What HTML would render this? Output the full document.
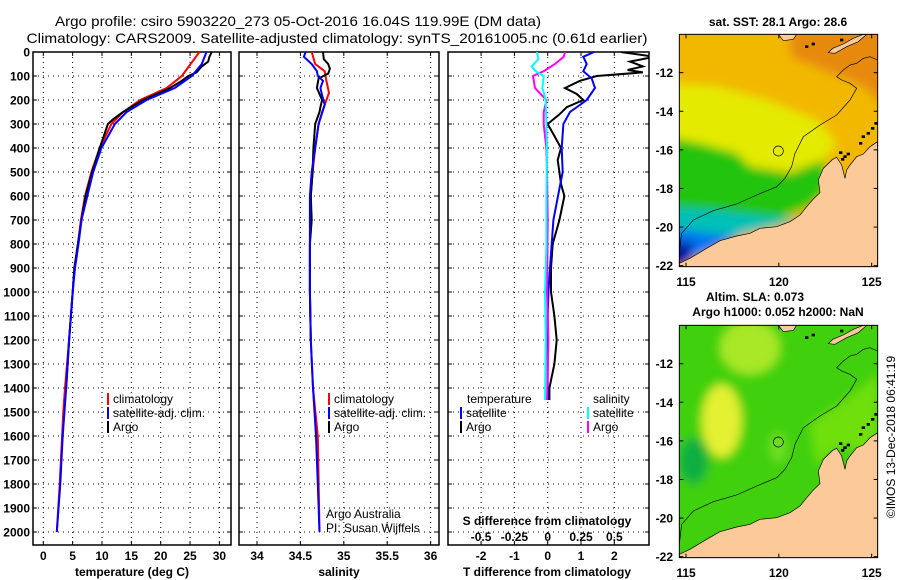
<!DOCTYPE html>
<html><head><meta charset="utf-8"><style>
html,body{margin:0;padding:0;background:#fff;}
svg{display:block;font-family:"Liberation Sans",Arial,sans-serif;}
.tk{font-size:12px;font-weight:bold;}
.lg{font-size:12px;}
</style></head><body>
<svg id="fig" width="900" height="580" viewBox="0 0 900 580" xmlns="http://www.w3.org/2000/svg">
<defs>
<filter id="bl" x="-20%" y="-20%" width="140%" height="140%"><feGaussianBlur stdDeviation="14"/></filter>
<clipPath id="cp1"><rect x="33" y="52" width="198" height="493"/></clipPath>
<clipPath id="cp2"><rect x="239" y="52" width="200" height="493"/></clipPath>
<clipPath id="cp3"><rect x="448" y="52" width="201" height="493"/></clipPath>
<clipPath id="cm"><rect x="88" y="103" width="595" height="697"/></clipPath>
</defs>
<text x="298" y="26" text-anchor="middle" font-size="14" textLength="486" lengthAdjust="spacingAndGlyphs">Argo profile: csiro 5903220_273 05-Oct-2016 16.04S 119.99E (DM data)</text>
<text x="337" y="43" text-anchor="middle" font-size="14" textLength="621" lengthAdjust="spacingAndGlyphs">Climatology: CARS2009. Satellite-adjusted climatology: synTS_20161005.nc (0.61d earlier)</text>
<g id="panels"></g>
<g id="maps"></g>
</svg>
<script>
// ---- data ----
const tClimDepth=[0,100,150,200,250,300,400,500,600,700,800,900,1000,1200,1400,1500,1600,1800,2000];
const tClim=[26.6,23.6,21.0,16.5,13.6,11.6,9.6,8.2,7.1,6.4,5.9,5.3,5.0,4.4,3.7,3.4,3.2,2.8,2.3];
const tSatDepth=[0,50,100,150,200,250,300,400,500,600,700,800,900,1000,1200,1400,1600,1800,2000];
const tSat=[27.8,27.0,25.3,22.4,17.6,14.2,12.2,9.9,8.5,7.5,6.5,6.0,5.4,5.0,4.4,3.9,3.3,2.9,2.3];
const tArgoDepth=[0,20,40,60,85,100,120,150,200,250,280,300,400,500,600,700,800,900,1000,1200,1400];
const tArgo=[28.7,28.3,28.1,27.0,26.1,24.7,23.6,21.6,17.0,13.6,11.9,11.0,9.6,8.3,7.2,6.5,5.9,5.3,5.0,4.4,3.9];
const sClimDepth=[0,50,80,120,170,200,250,300,400,500,600,800,1000,1200,1400,1600,2000];
const sClim=[34.63,34.67,34.78,34.80,34.83,34.80,34.75,34.71,34.67,34.64,34.62,34.61,34.61,34.62,34.645,34.70,34.72];
const sSatDepth=[0,20,50,80,100,120,150,180,220,300,400,500,600,1000,1200,1400,1600,1800,2000];
const sSat=[34.56,34.54,34.63,34.69,34.70,34.76,34.73,34.75,34.78,34.71,34.67,34.63,34.61,34.61,34.62,34.645,34.68,34.70,34.72];
const sArgoDepth=[0,30,50,70,90,110,150,200,230,250,300,400,500,600,700,800,1000,1200];
const sArgo=[34.76,34.77,34.82,34.84,34.82,34.71,34.69,34.75,34.73,34.72,34.67,34.65,34.64,34.62,34.63,34.61,34.61,34.62];
const dTSatDepth=[0,20,50,80,110,150,200,250,300,400,500,600,700,800,900,1000,1100,1200,1400,1450];
const dTSat=[1.39,1.07,1.17,1.07,1.32,1.42,1.17,0.67,0.47,0.42,0.45,0.31,0.17,0.12,0.07,0.02,0.0,0.0,0.0,0.0];
const dTArgoDepth=[0,20,40,60,75,85,100,120,150,175,200,230,260,300,350,400,450,500,550,600,700,800,900,1000,1100,1200,1300,1400,1450];
const dTArgo=[2.2,3.2,2.47,2.86,2.4,2.86,1.47,0.97,0.52,0.87,1.07,0.57,0.35,0.0,0.2,0.4,0.3,0.35,0.4,0.5,0.35,0.15,0.1,0.1,0.2,0.27,0.2,0.05,0.05];
const dSArgoDepth=[0,20,50,80,100,150,180,200,250,300,350,400,500,700,1000,1200,1450];
const dSArgo=[0.13,0.12,0.055,-0.03,-0.11,-0.095,-0.045,-0.008,-0.03,-0.03,-0.02,-0.01,-0.005,0.0,-0.005,0.005,-0.005];
const dSSatDepth=[0,30,60,80,100,150,200,300,400,600,800,1000,1200,1450];
const dSSat=[-0.08,-0.07,-0.12,-0.09,-0.03,-0.04,-0.015,-0.01,-0.005,-0.01,-0.01,-0.02,-0.015,-0.02];
const depthTicks=[0,100,200,300,400,500,600,700,800,900,1000,1100,1200,1300,1400,1500,1600,1700,1800,1900,2000];
const tTicks=[0,5,10,15,20,25,30];
const sTicks=[34,34.5,35,35.5,36];
const sTickLabels=["34","34.5","35","35.5","36"];
const dTTicks=[-2,-1,0,1,2];
const dSTicks=[-0.5,-0.25,0,0.25,0.5];
const dSTickLabels=["-0.5","-0.25","0","0.25","0.5"];
const latTicks=[-12,-14,-16,-18,-20,-22];
const lonTicks=[115,120,125];

// ---- axes ----
const yD=d=>52+d*0.24;
const xT=t=>43.3+t*5.87;
const xS=s=>257+(s-34)*86.8;
const xDT=t=>547.7+t*33.3;
const xDS=s=>547.7+s*4*33.3;
const NS="http://www.w3.org/2000/svg";
const root=document.getElementById('panels');
function mk(tag,attrs,parent){const e=document.createElementNS(NS,tag);for(const k in attrs)e.setAttribute(k,attrs[k]);(parent||root).appendChild(e);return e;}
function txt(x,y,s,cls,anchor,parent){const e=mk('text',{x:x,y:y,'class':cls,'text-anchor':anchor||'middle'},parent);e.textContent=s;return e;}

const panels=[{x:33,w:198,clip:'cp1',name:'temperature-panel'},{x:239,w:200,clip:'cp2',name:'salinity-panel'},{x:448,w:201,clip:'cp3',name:'difference-panel'}];
const gridX=[tTicks.map(xT),sTicks.map(xS),dTTicks.map(xDT)];
panels.forEach((p,i)=>{
  const g=mk('g',{});
  
  
  depthTicks.forEach(d=>{
    const l=mk('line',{x1:p.x,x2:p.x+p.w,y1:yD(d),y2:yD(d),stroke:'#000','stroke-width':1,'stroke-dasharray':'1 4'},g);
    
    
    mk('line',{x1:p.x,x2:p.x+4,y1:yD(d),y2:yD(d),stroke:'#000'},g);
    mk('line',{x1:p.x+p.w-4,x2:p.x+p.w,y1:yD(d),y2:yD(d),stroke:'#000'},g);
  });
  gridX[i].forEach(x=>{
    const l=mk('line',{x1:x,x2:x,y1:52,y2:545,stroke:'#000','stroke-width':1,'stroke-dasharray':'1 4'},g);
    
    
    mk('line',{x1:x,x2:x,y1:545,y2:541,stroke:'#000'},g);
    mk('line',{x1:x,x2:x,y1:52,y2:56,stroke:'#000'},g);
  });
  const r=mk('rect',{x:p.x,y:52,width:p.w,height:493,fill:'none',stroke:'#000','stroke-width':1.5},g);
  
  
});
depthTicks.forEach(d=>{
  const t=txt(30,yD(d)+4.5,String(d),'tk','end');
  
  
});
tTicks.forEach(v=>{const t=txt(xT(v),560,String(v),'tk');});
sTicks.forEach((v,i)=>{const t=txt(xS(v),560,sTickLabels[i],'tk');});
dTTicks.forEach(v=>{const t=txt(xDT(v),560,String(v),'tk');});
dSTicks.forEach((v,i)=>{const t=txt(xDS(v),541,dSTickLabels[i],'tk');});
let e;
e=txt(132,576,'temperature (deg C)','tk');
e=txt(339,576,'salinity','tk');
e=txt(547,576,'T difference from climatology','tk');
e=txt(547,525,'S difference from climatology','tk');
e=txt(326,518,'Argo Australia','lg','start');
e=txt(326,532,'PI: Susan Wijffels','lg','start');

function line(depths,vals,xf,color,clip,name){
  const pts=depths.map((d,i)=>xf(vals[i]).toFixed(1)+','+yD(d).toFixed(1)).join(' ');
  const pl=mk('polyline',{points:pts,fill:'none',stroke:color,'stroke-width':2,'clip-path':'url(#'+clip+')'});
  
  
}
line(tClimDepth,tClim,xT,'#ff0000','cp1','temperature-climatology-line');
line(tArgoDepth,tArgo,xT,'#000000','cp1','temperature-argo-line');
line(tSatDepth,tSat,xT,'#0000ff','cp1','temperature-satellite-line');
line(sClimDepth,sClim,xS,'#ff0000','cp2','salinity-climatology-line');
line(sArgoDepth,sArgo,xS,'#000000','cp2','salinity-argo-line');
line(sSatDepth,sSat,xS,'#0000ff','cp2','salinity-satellite-line');
line(dTArgoDepth,dTArgo,xDT,'#000000','cp3','t-diff-argo-line');
line(dTSatDepth,dTSat,xDT,'#0000ff','cp3','t-diff-satellite-line');
line(dSArgoDepth,dSArgo,xDS,'#ff00ff','cp3','s-diff-argo-line');
line(dSSatDepth,dSSat,xDS,'#00ffff','cp3','s-diff-satellite-line');

function legend(x,y,color,label,name){
  const g=mk('g',{});
  
  
  mk('line',{x1:x,x2:x,y1:y-10,y2:y+2,stroke:color,'stroke-width':2},g);
  txt(x+5,y,label,'lg','start',g);
}
legend(108,403,'#ff0000','climatology','legend-climatology');
legend(108,417,'#0000ff','satellite-adj. clim.','legend-satellite');
legend(108,431,'#000000','Argo','legend-argo');
legend(329,403,'#ff0000','climatology','legend2-climatology');
legend(329,417,'#0000ff','satellite-adj. clim.','legend2-satellite');
legend(329,431,'#000000','Argo','legend2-argo');
e=txt(467,403,'temperature','lg','start');
e=txt(593,403,'salinity','lg','start');
legend(461,417,'#0000ff','satellite','legend-t-satellite');
legend(461,431,'#000000','Argo','legend-t-argo');
legend(588,417,'#00ffff','satellite','legend-s-satellite');
legend(588,431,'#ff00ff','Argo','legend-s-argo');

// ---- maps ----
const mroot=document.getElementById('maps');
function mapGroup(dy,kind){
  const g=mk('g',{transform:'translate(650 '+dy+') scale(0.33333)'},mroot);
  
  
  const f=mk('g',{'clip-path':'url(#cm)'},g);
  const fb=mk('g',{filter:'url(#bl)'},f);
  if(kind==='sst'){
    mk('rect',{x:40,y:60,width:700,height:800,fill:'#f2b800'},fb);
    mk('polygon',{points:'420,60 740,60 740,350 640,260 520,210 420,170',fill:'#e68a10'},fb);
    mk('polygon',{points:'40,250 200,260 350,300 500,360 560,430 520,480 420,515 300,500 250,470 150,430 40,410',fill:'#e4ea00'},fb);
    mk('polygon',{points:'40,410 150,430 260,460 300,500 420,520 520,480 540,560 480,620 380,660 250,680 40,660',fill:'#20c410'},fb);
    mk('polygon',{points:'40,620 200,630 350,650 460,660 330,690 250,710 150,740 40,770',fill:'#00c0b8'},fb);
    mk('polygon',{points:'40,680 180,700 270,710 150,770 40,800',fill:'#0078f0'},fb);
    mk('polygon',{points:'40,730 130,725 120,790 40,820',fill:'#0018a0'},fb);
  } else {
    mk('rect',{x:40,y:60,width:700,height:800,fill:'#40d010'},fb);
    mk('ellipse',{cx:300,cy:170,rx:90,ry:80,fill:'#a8e828'},fb);
    mk('ellipse',{cx:215,cy:390,rx:60,ry:110,fill:'#e4f030'},fb);
    mk('ellipse',{cx:130,cy:510,rx:45,ry:70,fill:'#10b040'},fb);
    mk('ellipse',{cx:385,cy:470,rx:25,ry:45,fill:'#70e020'},fb);
    mk('polygon',{points:'480,400 600,320 683,250 683,480 560,470 500,520',fill:'#70e010'},fb);
  }
  const land=mk('polygon',{points:'88,800 88,790 120,775 170,745 210,722 260,708 300,700 330,685 380,680 420,665 450,645 470,620 490,597 510,578 505,540 520,505 548,478 560,472 575,495 585,535 590,510 600,495 620,470 640,462 660,440 683,425 683,800',fill:'#fcca98',stroke:'#000','stroke-width':2},f);
  
  
  mk('polygon',{points:'385,103 440,103 430,118 400,122',fill:'#fcca98',stroke:'#000','stroke-width':2},f);
  mk('polygon',{points:'535,158 548,145 580,132 610,115 640,103 650,103 625,125 590,140 555,160',fill:'#fcca98',stroke:'#000','stroke-width':2},f);
  [[572,458],[585,470],[595,462],[578,478],[640,410],[655,400],[668,385],[678,370],[632,430],[470,140],[490,132],[575,120]].forEach(p=>{
    mk('rect',{x:p[0]-5,y:p[1]-4,width:10,height:8,fill:'#000'},f);
  });
  mk('polyline',{points:'88,760 95,700 130,660 190,632 260,612 320,585 380,560 405,535 425,500 435,460 460,410 510,375 560,345 600,300 620,265 600,250 575,240 560,230 580,210 600,195 620,190 640,175 660,170 683,180',fill:'none',stroke:'#000','stroke-width':2},f);
  mk('circle',{cx:385,cy:453,r:15,fill:'none',stroke:'#000','stroke-width':2},f);
  mk('rect',{x:88,y:103,width:595,height:697,fill:'none',stroke:'#000','stroke-width':3},g);
  latTicks.forEach(v=>{const y=218+(-12-v)*57.9;mk('line',{x1:88,x2:100,y1:y,y2:y,stroke:'#000','stroke-width':3},g);mk('line',{x1:671,x2:683,y1:y,y2:y,stroke:'#000','stroke-width':3},g);});
  lonTicks.forEach(v=>{const x=108+(v-115)*55.7;mk('line',{x1:x,x2:x,y1:800,y2:788,stroke:'#000','stroke-width':3},g);mk('line',{x1:x,x2:x,y1:103,y2:115,stroke:'#000','stroke-width':3},g);});
}
mapGroup(0,'sst');
mapGroup(291,'sla');
[0,291].forEach(dy=>{
  latTicks.forEach(v=>{const t=txt(673,dy+72.7+(-12-v)*19.3+4.5,String(v),'tk','end',mroot);});
  lonTicks.forEach(v=>{const t=txt(686+(v-115)*18.57,dy+286,String(v),'tk','middle',mroot);});
});
e=txt(778,26,'sat. SST: 28.1 Argo: 28.6','tk','middle',mroot);
e=txt(755,301,'Altim. SLA: 0.073','tk','middle',mroot);
e=txt(778,316,'Argo h1000: 0.052 h2000: NaN','tk','middle',mroot);
e=txt(0,0,'©IMOS 13-Dec-2018 06:41:19','lg','middle',mroot);
e.setAttribute('transform','translate(895 437) rotate(-90)');


</script>
</body></html>
